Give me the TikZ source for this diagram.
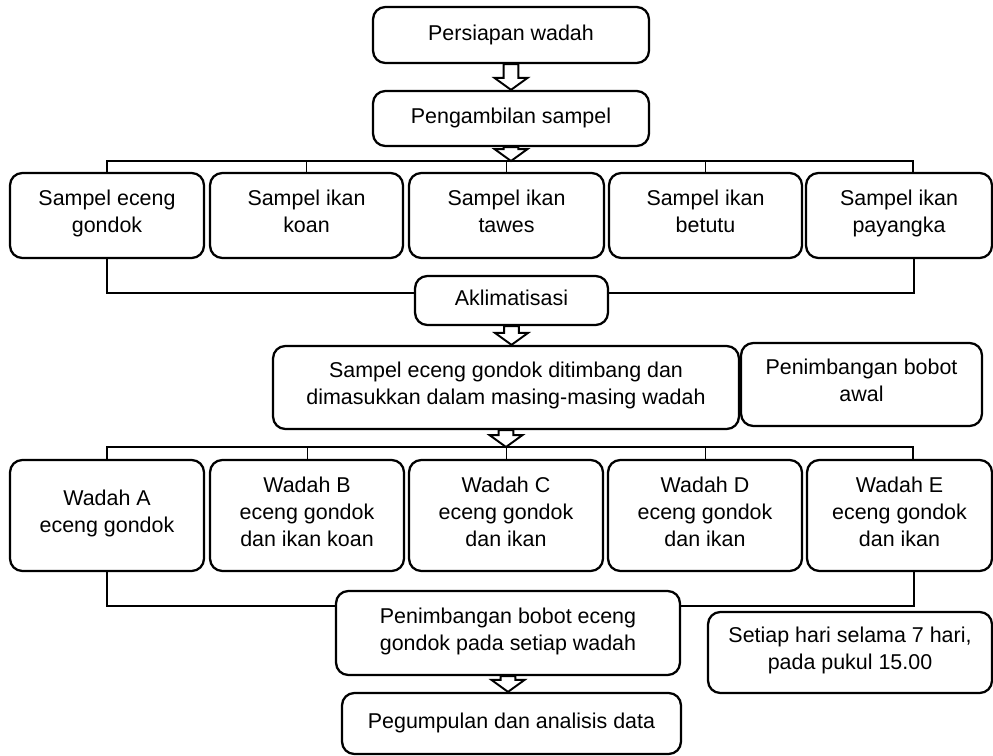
\documentclass[tikz,border=0pt]{standalone}
\usepackage{fontspec}
\setmainfont{Liberation Sans}
\usetikzlibrary{calc}

% hollow block arrow pointing down, from #1 to the height of #2
\newcommand{\fatarrow}[2]{%
  \draw[hollowarrow] let \p1=(#1), \p2=(#2) in
    (\x1-4.2pt,\y1) -- (\x1-4.2pt,\y2+6.8pt) -- (\x1-9.4pt,\y2+6.8pt) -- (\x1,\y2)
    -- (\x1+9.4pt,\y2+6.8pt) -- (\x1+4.2pt,\y2+6.8pt) -- (\x1+4.2pt,\y1) -- cycle;}

\begin{document}
\begin{tikzpicture}[x=0.02cm, y=-0.02cm,
  box/.style={draw, line width=1.3pt, rounded corners=7pt, align=center, inner sep=0pt,
    font=\fontsize{12.2}{15.3}\selectfont,
    execute at begin node=\strut, execute at end node=\strut},
  link/.style={line width=1pt},
  stub/.style={line width=0.5pt},
  hollowarrow/.style={draw, fill=white, line width=1.1pt, line join=miter}]
  \useasboundingbox (0,0) rectangle (993,756);

  \node[box, minimum width=5.52cm, minimum height=1.12cm] (siap) at (511,35) {Persiapan wadah};
  \node[box, minimum width=5.52cm, minimum height=1.1cm] (ambil) at (511,118.5) {Pengambilan sampel};

  \node[box, minimum width=3.88cm, minimum height=1.7cm] (eceng) at (107,215.5) {Sampel eceng\\gondok};
  \node[box, minimum width=3.86cm, minimum height=1.7cm] (koan) at (306.5,215.5) {Sampel ikan\\koan};
  \node[box, minimum width=3.9cm, minimum height=1.7cm] (tawes) at (506.5,215.5) {Sampel ikan\\tawes};
  \node[box, minimum width=3.86cm, minimum height=1.7cm] (betutu) at (705.5,215.5) {Sampel ikan\\betutu};
  \node[box, minimum width=3.72cm, minimum height=1.7cm] (payangka) at (899,215.5) {Sampel ikan\\payangka};

  \node[box, minimum width=3.86cm, minimum height=0.98cm] (aklim) at (511.5,300.5) {Aklimatisasi};
  \node[box, minimum width=9.32cm, minimum height=1.66cm] (timbang) at (506,387.5) {Sampel eceng gondok ditimbang dan\\dimasukkan dalam masing-masing wadah};
  \node[box, minimum width=4.82cm, minimum height=1.66cm] (awal) at (861.5,384.5) {Penimbangan bobot\\awal};

  \node[box, minimum width=3.88cm, minimum height=2.22cm] (wadahA) at (107,515.5) {Wadah A\\eceng gondok};
  \node[box, minimum width=3.88cm, minimum height=2.22cm] (wadahB) at (307,515.5) {Wadah B\\eceng gondok\\dan ikan koan};
  \node[box, minimum width=3.88cm, minimum height=2.22cm] (wadahC) at (506,515.5) {Wadah C\\eceng gondok\\dan ikan};
  \node[box, minimum width=3.88cm, minimum height=2.22cm] (wadahD) at (705,515.5) {Wadah D\\eceng gondok\\dan ikan};
  \node[box, minimum width=3.7cm, minimum height=2.22cm] (wadahE) at (899.5,515.5) {Wadah E\\eceng gondok\\dan ikan};

  \node[box, minimum width=6.88cm, minimum height=1.68cm] (bobot) at (508,633) {Penimbangan bobot eceng\\gondok pada setiap wadah};
  \node[box, minimum width=6.78cm, minimum height=1.22cm] (data) at (511.5,723.5) {Pegumpulan dan analisis data};
  \node[box, minimum width=5.68cm, minimum height=1.62cm] (harian) at (850,652.5) {Setiap hari selama 7 hari,\\pada pukul 15.00};

  % brackets
  \coordinate (top1) at (110,161);
  \coordinate (top1r) at (913,161);
  \coordinate (bot1) at (914,293);
  \coordinate (top2) at (111,447);
  \coordinate (top2r) at (913,447);
  \coordinate (bot2) at (914,606);

  \draw[link] (eceng.north) |- (top1r) -- (top1r |- payangka.north);
  \foreach \n in {koan,tawes,betutu}
    \draw[stub] (\n.north) -- (\n.north |- top1);
  \draw[link] (eceng.south) |- (aklim.west |- bot1);
  \draw[link] (aklim.east |- bot1) -- (bot1) -- (bot1 |- payangka.south);

  \draw[link] (wadahA.north) |- (top2r) -- (top2r |- wadahE.north);
  \foreach \n in {wadahB,wadahC,wadahD}
    \draw[stub] (\n.north) -- (\n.north |- top2);
  \draw[link] (wadahA.south) |- (bobot.west |- bot2);
  \draw[link] (bobot.east |- bot2) -- (bot2) -- (bot2 |- wadahE.south);

  % arrows
  \fatarrow{siap.south}{ambil.north}
  \fatarrow{ambil.south}{top1}
  \fatarrow{aklim.south}{timbang.north}
  \fatarrow{timbang.south}{top2}
  \fatarrow{bobot.south}{data.north}
\end{tikzpicture}
\end{document}
